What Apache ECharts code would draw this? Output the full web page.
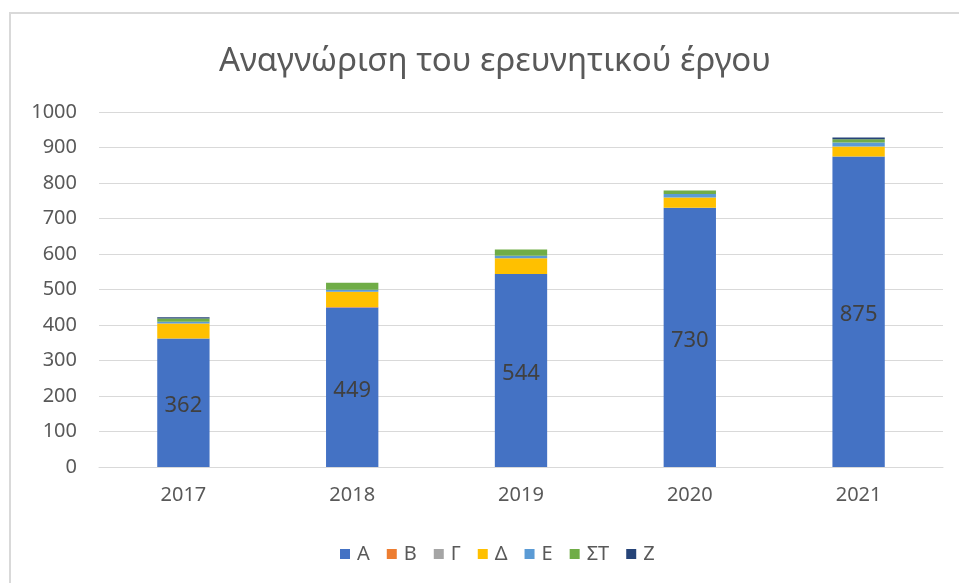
<!DOCTYPE html>
<html>
<head>
<meta charset="utf-8">
<script src="https://cdn.jsdelivr.net/npm/echarts@6/dist/echarts.min.js"></script>
<style>
html,body{margin:0;padding:0;background:#fff;}
#chart{width:959px;height:583px;}
</style>
</head>
<body>
<div id="chart"></div>
<script>
const categories = ['2017', '2018', '2019', '2020', '2021'];
const seriesNames = ['Α', 'Β', 'Γ', 'Δ', 'Ε', 'ΣΤ', 'Ζ'];
const valuesA = [362, 449, 544, 730, 875];
const valuesB = [0, 2, 0, 0, 0];
const valuesG = [0, 0, 0, 0, 0];
const valuesD = [42, 43, 44, 29, 28];
const valuesE = [5, 5, 7, 10, 11];
const valuesST = [9, 20, 18, 10, 9];
const valuesZ = [4, 0, 0, 0, 5];
const yTicks = [0, 100, 200, 300, 400, 500, 600, 700, 800, 900, 1000];
const colors = ['#4472C4', '#ED7D31', '#A5A5A5', '#FFC000', '#5B9BD5', '#70AD47', '#264478'];

const allValues = [valuesA, valuesB, valuesG, valuesD, valuesE, valuesST, valuesZ];
const font = 'Noto Sans';

const chart = echarts.init(document.getElementById('chart'), null, {renderer: 'canvas'});
const series = seriesNames.map((name, i) => ({
  name: name,
  type: 'bar',
  stack: 'total',
  barWidth: '31%',
  data: allValues[i],
  itemStyle: {color: colors[i]},
  label: i === 0 ? {
    show: true,
    position: 'inside',
    offset: [0, 3],
    color: '#404040',
    fontSize: 22,
    fontFamily: font
  } : {show: false}
}));

chart.setOption({
  animation: false,
  backgroundColor: '#fff',
  title: {
    text: 'Αναγνώριση του ερευνητικού έργου',
    left: 490,
    textAlign: 'center',
    top: 40,
    textStyle: {fontFamily: font, fontSize: 33, fontWeight: 'normal', color: '#595959'}
  },
  graphic: [{
    type: 'rect',
    shape: {x: 10, y: 13, width: 1000, height: 700},
    style: {fill: 'none', stroke: '#D9D9D9', lineWidth: 2},
    silent: true
  }],
  legend: {
    top: 539,
    left: 335,
    itemWidth: 10,
    itemHeight: 10,
    itemGap: 17,
    icon: 'rect',
    textStyle: {fontFamily: font, fontSize: 20, color: '#595959', padding: [0, 0, 0, 2]},
    data: seriesNames
  },
  grid: {left: 99, right: 16, top: 112, bottom: 116, containLabel: false},
  xAxis: {
    type: 'category',
    data: categories,
    axisLine: {lineStyle: {color: '#D9D9D9', width: 1}},
    axisTick: {show: false},
    axisLabel: {fontFamily: font, fontSize: 20, color: '#595959', margin: 18}
  },
  yAxis: {
    type: 'value',
    min: yTicks[0],
    max: yTicks[yTicks.length - 1],
    interval: 100,
    axisLine: {show: false},
    axisTick: {show: false},
    splitLine: {lineStyle: {color: '#D9D9D9', width: 1}},
    axisLabel: {fontFamily: font, fontSize: 20, color: '#595959', margin: 22, formatter: v => String(v)}
  },
  series: series
});
</script>
</body>
</html>
